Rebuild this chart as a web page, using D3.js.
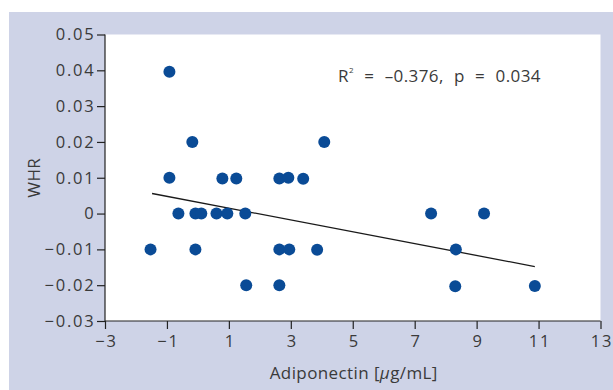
<!DOCTYPE html>
<html>
<head>
<meta charset="utf-8">
<script src="https://cdn.jsdelivr.net/npm/d3@7"></script>
<style>
  body { margin: 0; background: #fff; }
  svg { display: block; font-family: "Open Sans", "Noto Sans", sans-serif; }
  .tick text { font-family: "Open Sans", "Noto Sans", sans-serif; font-size: 16.5px; fill: #3a3a3a; letter-spacing: 1.8px; }
  .tick line, .domain { stroke: #222; stroke-width: 1.2; }
  .label { font-size: 17px; fill: #3a3a3a; letter-spacing: 0.4px; }
</style>
</head>
<body>
<svg width="613" height="390"></svg>
<script>
// adiponectin change (x) and WHR change (y)
const adiponectin = [-1.53, -0.92, -0.92, -0.63, -0.18, -0.08, -0.08, 0.11, 0.6, 0.79,
  0.95, 1.24, 1.53, 1.56, 2.63, 2.63, 2.63, 2.92, 2.95, 3.4,
  3.85, 4.08, 7.53, 8.33, 8.31, 9.24, 10.88];
const whr = [-0.01, 0.0396, 0.01, 0, 0.02, 0, -0.01, 0, 0, 0.0098,
  0, 0.0098, 0, -0.02, 0.0098, -0.01, -0.02, 0.01, -0.01, 0.0097,
  -0.0101, 0.02, 0, -0.01, -0.0203, 0, -0.0202];
// regression line end points
const fitX = [-1.48, 10.88];
const fitY = [0.0056, -0.0148];
const xTicks = [-3, -1, 1, 3, 5, 7, 9, 11, 13];
const yTicks = [0.05, 0.04, 0.03, 0.02, 0.01, 0, -0.01, -0.02, -0.03];

const svg = d3.select('svg');
const width = +svg.attr('width');
const height = +svg.attr('height');
const margin = {top: 34.5, right: 12.5, bottom: 69, left: 105};
const innerWidth = width - margin.left - margin.right;
const innerHeight = height - margin.top - margin.bottom;

// lavender backdrop and white plotting panel
svg.append('rect')
  .attr('x', 9).attr('y', 12)
  .attr('width', width - 9).attr('height', height - 12)
  .attr('fill', '#ced3e7');

const g = svg.append('g')
  .attr('transform', `translate(${margin.left}, ${margin.top})`);

g.append('rect')
  .attr('width', innerWidth).attr('height', innerHeight)
  .attr('fill', '#fff');

const xScale = d3.scaleLinear().domain([-3, 13]).range([0, innerWidth]);
const yScale = d3.scaleLinear().domain([-0.03, 0.05]).range([innerHeight, 0]);

const minus = s => s.replace('-', '\u2212');

// x axis, labels nudged right to offset the trailing letter spacing
g.append('g')
  .attr('transform', `translate(0, ${innerHeight})`)
  .call(d3.axisBottom(xScale).tickValues(xTicks).tickSize(8).tickPadding(6)
    .tickFormat(d => minus(String(d))))
  .call(a => a.select('.domain').attr('d', `M0,0H${innerWidth}`))
  .call(a => a.selectAll('.tick text').attr('dx', 1));

g.append('g')
  .call(d3.axisLeft(yScale).tickValues(yTicks).tickSize(8).tickPadding(1.5)
    .tickFormat(d => d === 0 ? '0' : minus(d3.format('.2f')(d))))
  .call(a => a.select('.domain').attr('d', `M0,${innerHeight}V0`));

// regression line
g.append('line')
  .attr('x1', xScale(fitX[0])).attr('y1', yScale(fitY[0]))
  .attr('x2', xScale(fitX[1])).attr('y2', yScale(fitY[1]))
  .attr('stroke', '#1a1a1a').attr('stroke-width', 1.3);

// data points
g.selectAll('.dot')
  .data(adiponectin.map((d, i) => ({x: d, y: whr[i]})))
  .enter().append('circle')
    .attr('class', 'dot')
    .attr('cx', d => xScale(d.x))
    .attr('cy', d => yScale(d.y))
    .attr('r', 6)
    .attr('fill', '#0a4b96');

// annotation
const note = svg.append('text')
  .attr('class', 'label')
  .attr('x', 338).attr('y', 82)
  .attr('word-spacing', 5.5);
note.append('tspan').text('R');
note.append('tspan').attr('font-size', 8).attr('dy', -9).text('2');
note.append('tspan').attr('dy', 9).text(' = \u20130.376, p = 0.034');

// axis titles
svg.append('text')
  .attr('class', 'label')
  .attr('x', margin.left + innerWidth / 2 + 1).attr('y', 379)
  .attr('text-anchor', 'middle')
  .attr('letter-spacing', 0.8)
  .html('Adiponectin [<tspan font-style="italic">\u03bc</tspan>g/mL]');

svg.append('text')
  .attr('class', 'label')
  .attr('transform', `translate(40, ${margin.top + innerHeight / 2}) rotate(-90)`)
  .attr('text-anchor', 'middle')
  .text('WHR');
</script>
</body>
</html>
